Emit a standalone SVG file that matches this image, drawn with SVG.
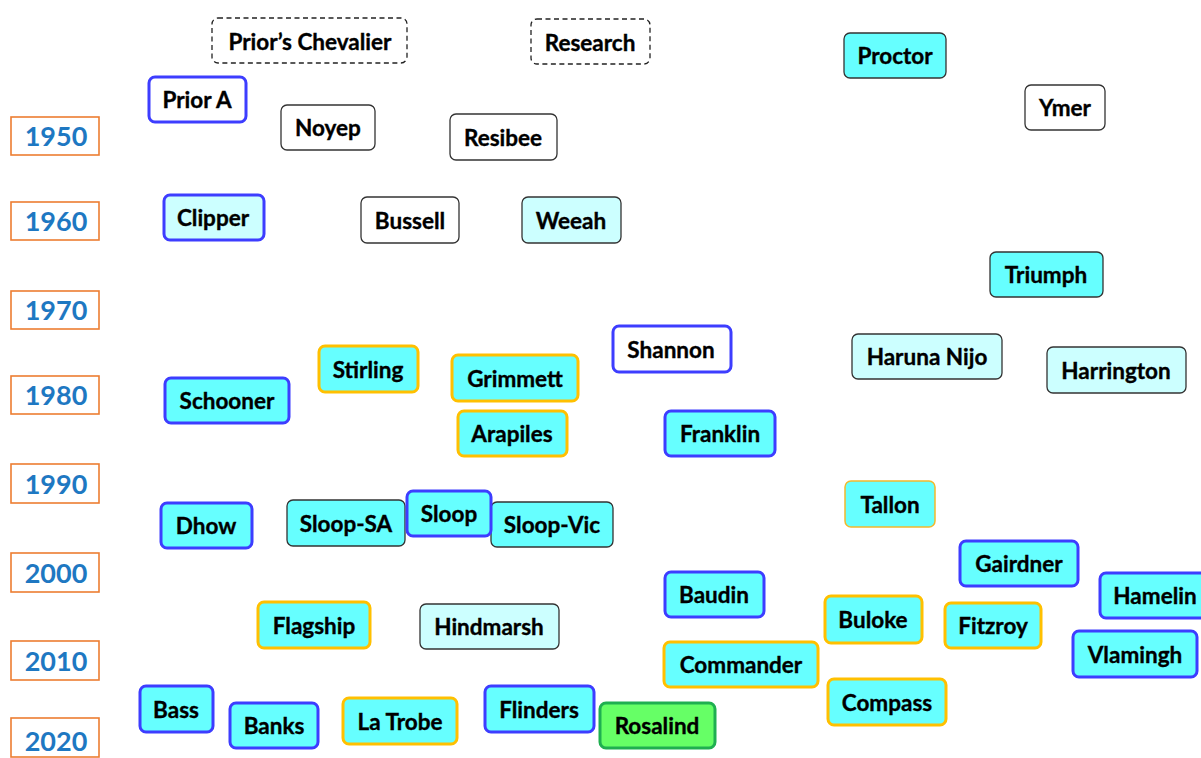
<svg xmlns="http://www.w3.org/2000/svg" width="1201" height="758" viewBox="0 0 1201 758">
<style>
rect{rx:6px;ry:6px}
.t{font-family:Lato,"Open Sans","Liberation Sans",sans-serif;font-weight:bold;font-size:22.5px;fill:#000;stroke:#000;stroke-width:0.35;text-anchor:middle}
.y{font-family:Lato,"Open Sans","Liberation Sans",sans-serif;font-weight:bold;font-size:27px;fill:#1E78C2;text-anchor:middle}
.yr{fill:#fff;stroke:#ED7D31;stroke-width:1.6;rx:0;ry:0}
.dash{fill:#fff;stroke:#222;stroke-width:1.3;stroke-dasharray:5 3.5}
.thin{fill:#fff;stroke:#333;stroke-width:1.3}
.thinl{fill:#CCFFFF;stroke:#333;stroke-width:1.3}
.thinc{fill:#66FFFF;stroke:#333;stroke-width:1.3}
.bw{fill:#fff;stroke:#3D3DFF;stroke-width:3}
.bl{fill:#CCFFFF;stroke:#3D3DFF;stroke-width:3}
.bc{fill:#66FFFF;stroke:#3D3DFF;stroke-width:3}
.oc{fill:#66FFFF;stroke:#FFC000;stroke-width:3}
.otc{fill:#66FFFF;stroke:#F2B82E;stroke-width:1.5}
.gr{fill:#66FF66;stroke:#1FAF50;stroke-width:3}
</style>
<rect width="1201" height="758" fill="#fff" rx="0" ry="0"/>
<g id="years">
<g id="y1950"><rect class="yr" x="11" y="117" width="88" height="38"/><text class="y" x="56" y="146">1950</text></g>
<g id="y1960"><rect class="yr" x="11" y="202" width="88" height="38"/><text class="y" x="56" y="231">1960</text></g>
<g id="y1970"><rect class="yr" x="11" y="291" width="88" height="38"/><text class="y" x="56" y="320">1970</text></g>
<g id="y1980"><rect class="yr" x="11" y="376" width="88" height="38"/><text class="y" x="56" y="405">1980</text></g>
<g id="y1990"><rect class="yr" x="11" y="464" width="88" height="39"/><text class="y" x="56" y="494">1990</text></g>
<g id="y2000"><rect class="yr" x="11" y="553" width="88" height="39"/><text class="y" x="56" y="583">2000</text></g>
<g id="y2010"><rect class="yr" x="11" y="641" width="88" height="39"/><text class="y" x="56" y="671">2010</text></g>
<g id="y2020"><rect class="yr" x="11" y="718" width="88" height="39"/><text class="y" x="56" y="751">2020</text></g>
</g>
<g id="connectors"></g>
<g id="n-priors-chevalier"><rect class="dash" x="212" y="18" width="195" height="45"/><text class="t" x="310" y="50">Prior’s Chevalier</text></g>
<g id="n-research"><rect class="dash" x="531" y="19" width="119" height="45"/><text class="t" x="590" y="51">Research</text></g>
<g id="n-prior-a"><rect class="bw" x="149" y="77" width="97" height="45"/><text class="t" x="197" y="108">Prior A</text></g>
<g id="n-noyep"><rect class="thin" x="281" y="105" width="94" height="45"/><text class="t" x="328" y="136">Noyep</text></g>
<g id="n-resibee"><rect class="thin" x="450" y="114" width="107" height="46"/><text class="t" x="503" y="146">Resibee</text></g>
<g id="n-proctor"><rect class="thinc" x="844" y="33" width="102" height="45"/><text class="t" x="895" y="64">Proctor</text></g>
<g id="n-ymer"><rect class="thin" x="1025" y="85" width="80" height="45"/><text class="t" x="1065" y="116">Ymer</text></g>
<g id="n-clipper"><rect class="bl" x="164" y="195" width="100" height="45"/><text class="t" x="213" y="226">Clipper</text></g>
<g id="n-bussell"><rect class="thin" x="361" y="197" width="98" height="46"/><text class="t" x="410" y="229">Bussell</text></g>
<g id="n-weeah"><rect class="thinl" x="522" y="197" width="99" height="46"/><text class="t" x="571" y="229">Weeah</text></g>
<g id="n-triumph"><rect class="thinc" x="990" y="252" width="113" height="45"/><text class="t" x="1046" y="283">Triumph</text></g>
<g id="n-shannon"><rect class="bw" x="613" y="326" width="118" height="46"/><text class="t" x="671" y="358">Shannon</text></g>
<g id="n-haruna-nijo"><rect class="thinl" x="852" y="334" width="150" height="45"/><text class="t" x="927" y="365">Haruna Nijo</text></g>
<g id="n-harrington"><rect class="thinl" x="1047" y="347" width="139" height="46"/><text class="t" x="1116" y="379">Harrington</text></g>
<g id="n-stirling"><rect class="oc" x="319" y="346" width="99" height="46"/><text class="t" x="368" y="378">Stirling</text></g>
<g id="n-grimmett"><rect class="oc" x="452" y="355" width="126" height="46"/><text class="t" x="515" y="387">Grimmett</text></g>
<g id="n-schooner"><rect class="bc" x="165" y="378" width="124" height="45"/><text class="t" x="227" y="409">Schooner</text></g>
<g id="n-arapiles"><rect class="oc" x="458" y="411" width="109" height="45"/><text class="t" x="512" y="442">Arapiles</text></g>
<g id="n-franklin"><rect class="bc" x="665" y="411" width="110" height="45"/><text class="t" x="720" y="442">Franklin</text></g>
<g id="n-tallon"><rect class="otc" x="845" y="481" width="90" height="46"/><text class="t" x="890" y="513">Tallon</text></g>
<g id="n-dhow"><rect class="bc" x="161" y="503" width="91" height="45"/><text class="t" x="206" y="534">Dhow</text></g>
<g id="n-sloop-sa"><rect class="thinc" x="287" y="500" width="118" height="46"/><text class="t" x="346" y="532">Sloop-SA</text></g>
<g id="n-sloop-vic"><rect class="thinc" x="491" y="502" width="122" height="45"/><text class="t" x="552" y="533">Sloop-Vic</text></g>
<g id="n-sloop"><rect class="bc" x="407" y="491" width="84" height="45"/><text class="t" x="449" y="522">Sloop</text></g>
<g id="n-gairdner"><rect class="bc" x="960" y="541" width="118" height="45"/><text class="t" x="1019" y="572">Gairdner</text></g>
<g id="n-hamelin"><rect class="bc" x="1100" y="573" width="112" height="45"/><text class="t" x="1155" y="604">Hamelin</text></g>
<g id="n-baudin"><rect class="bc" x="665" y="572" width="99" height="45"/><text class="t" x="714" y="603">Baudin</text></g>
<g id="n-flagship"><rect class="oc" x="258" y="602" width="112" height="46"/><text class="t" x="314" y="634">Flagship</text></g>
<g id="n-hindmarsh"><rect class="thinl" x="420" y="604" width="139" height="45"/><text class="t" x="489" y="635">Hindmarsh</text></g>
<g id="n-buloke"><rect class="oc" x="825" y="596" width="97" height="47"/><text class="t" x="873" y="628">Buloke</text></g>
<g id="n-fitzroy"><rect class="oc" x="945" y="603" width="96" height="45"/><text class="t" x="993" y="634">Fitzroy</text></g>
<g id="n-vlamingh"><rect class="bc" x="1073" y="631" width="124" height="46"/><text class="t" x="1135" y="663">Vlamingh</text></g>
<g id="n-commander"><rect class="oc" x="664" y="642" width="154" height="45"/><text class="t" x="741" y="673">Commander</text></g>
<g id="n-compass"><rect class="oc" x="828" y="679" width="118" height="46"/><text class="t" x="887" y="711">Compass</text></g>
<g id="n-bass"><rect class="bc" x="140" y="686" width="73" height="46"/><text class="t" x="176" y="718">Bass</text></g>
<g id="n-banks"><rect class="bc" x="230" y="703" width="88" height="45"/><text class="t" x="274" y="734">Banks</text></g>
<g id="n-la-trobe"><rect class="oc" x="343" y="698" width="114" height="46"/><text class="t" x="400" y="730">La Trobe</text></g>
<g id="n-flinders"><rect class="bc" x="485" y="686" width="109" height="46"/><text class="t" x="539" y="718">Flinders</text></g>
<g id="n-rosalind"><rect class="gr" x="600" y="703" width="115" height="45"/><text class="t" x="657" y="734">Rosalind</text></g>
</svg>
